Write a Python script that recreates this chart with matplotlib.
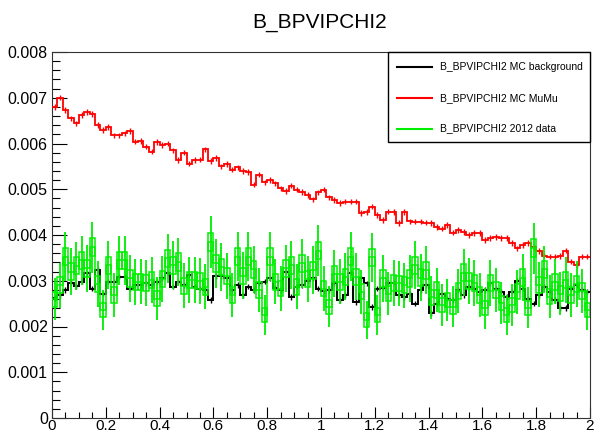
import numpy as np
import matplotlib
matplotlib.use("Agg")
import matplotlib.pyplot as plt
from matplotlib.patches import Rectangle
from matplotlib.lines import Line2D

plt.rcParams["font.family"] = ["Liberation Sans", "DejaVu Sans"]

# Dados (100 bins de 0 a 2), valores em unidades de 1e-3
x_min, x_max, n_bins = 0.0, 2.0, 100

mc_mumu = [
    6.80, 7.00, 6.73, 6.55, 6.44, 6.62, 6.69, 6.64, 6.40, 6.30,
    6.36, 6.18, 6.18, 6.22, 6.27, 6.04, 6.05, 5.93, 5.82, 6.03,
    5.97, 6.00, 5.85, 5.64, 5.80, 5.56, 5.64, 5.65, 5.87, 5.62,
    5.68, 5.50, 5.55, 5.43, 5.48, 5.40, 5.38, 5.10, 5.32, 5.15,
    5.20, 5.13, 5.02, 4.96, 5.08, 4.99, 4.94, 4.87, 4.78, 4.93,
    4.99, 4.82, 4.76, 4.70, 4.73, 4.73, 4.73, 4.48, 4.50, 4.62,
    4.44, 4.33, 4.51, 4.50, 4.26, 4.50, 4.30, 4.29, 4.29, 4.27,
    4.26, 4.18, 4.14, 4.22, 4.05, 4.11, 4.07, 4.00, 4.04, 4.04,
    3.89, 3.93, 3.96, 3.93, 3.93, 3.82, 3.71, 3.78, 3.82, 3.74,
    3.65, 3.55, 3.53, 3.53, 3.54, 3.66, 3.42, 3.34, 3.53, 3.53,
]

mc_background = [
    2.62, 2.69, 2.80, 2.96, 2.88, 2.98, 3.16, 2.83, 3.23, 2.72,
    2.98, 2.98, 3.09, 3.09, 2.83, 2.90, 2.91, 2.94, 2.91, 2.98,
    3.05, 3.16, 2.87, 2.98, 2.91, 3.12, 2.87, 2.83, 2.80, 2.58,
    3.10, 3.10, 3.05, 2.80, 2.91, 2.69, 2.87, 2.80, 2.95, 2.98,
    3.05, 2.85, 2.80, 3.20, 2.65, 2.87, 2.90, 3.00, 3.05, 2.83,
    2.77, 2.80, 2.94, 2.58, 2.69, 3.18, 2.54, 3.05, 2.94, 2.43,
    2.83, 2.85, 2.95, 2.96, 2.69, 2.65, 2.72, 2.50, 2.80, 2.90,
    2.29, 2.50, 2.70, 2.61, 2.58, 2.80, 2.69, 2.87, 2.83, 2.76,
    2.80, 2.94, 2.83, 2.76, 2.65, 2.76, 3.00, 2.83, 2.61, 2.50,
    2.69, 2.87, 2.76, 2.58, 2.40, 2.40, 2.83, 2.91, 2.80, 2.76,
]

data_2012 = [
    2.60, 2.90, 3.53, 3.20, 3.33, 3.45, 3.27, 3.73, 2.93, 2.36,
    3.34, 2.69, 3.45, 3.45, 3.05, 2.97, 2.98, 2.95, 3.01, 2.61,
    3.04, 3.49, 3.34, 3.41, 2.89, 3.01, 3.01, 2.99, 2.87, 3.84,
    3.38, 3.30, 3.10, 2.69, 3.53, 3.11, 3.53, 3.25, 2.80, 2.25,
    3.53, 2.98, 2.83, 3.27, 3.34, 2.87, 3.38, 3.04, 3.23, 3.66,
    2.83, 2.43, 3.15, 2.98, 3.09, 3.53, 3.09, 2.76, 2.14, 3.51,
    2.25, 3.05, 2.72, 2.95, 2.94, 2.90, 3.05, 3.34, 3.07, 3.23,
    2.64, 2.80, 2.47, 2.58, 2.43, 2.78, 3.18, 3.00, 2.95, 2.69,
    2.40, 2.95, 2.80, 2.51, 2.25, 2.47, 2.76, 3.07, 2.41, 3.71,
    2.91, 3.25, 2.65, 2.98, 2.72, 3.01, 2.69, 2.93, 2.78, 2.36,
]

# incertezas aproximadas (unidades de 1e-3)
err_mc = 0.06
err_data_ref = 0.50
box_frac = 0.35

x_ticks = [0, 0.2, 0.4, 0.6, 0.8, 1.0, 1.2, 1.4, 1.6, 1.8, 2.0]
x_tick_labels = ["0", "0.2", "0.4", "0.6", "0.8", "1", "1.2", "1.4", "1.6", "1.8", "2"]
y_ticks = [0, 0.001, 0.002, 0.003, 0.004, 0.005, 0.006, 0.007, 0.008]
y_tick_labels = ["0", "0.001", "0.002", "0.003", "0.004", "0.005", "0.006", "0.007", "0.008"]

labels = ["B_BPVIPCHI2 MC background", "B_BPVIPCHI2 MC MuMu", "B_BPVIPCHI2 2012 data"]
colors = ["#000000", "#ff0000", "#00ee00"]

# ================================
# Preparação
# ================================
edges = np.linspace(x_min, x_max, n_bins + 1)
centers = 0.5 * (edges[:-1] + edges[1:])
width = edges[1] - edges[0]
bkg = np.array(mc_background) * 1e-3
mumu = np.array(mc_mumu) * 1e-3
data = np.array(data_2012) * 1e-3
data_err = err_data_ref * 1e-3 * np.sqrt(data / 0.003)

W, H = 595, 434
fig = plt.figure(figsize=(W / 100, H / 100), dpi=100)
ax = fig.add_axes([52 / W, (H - 418) / H, (590 - 52) / W, (418 - 52) / H])

# MC background
ax.stairs(bkg, edges, baseline=None, color=colors[0], lw=1.4, zorder=3)
ax.errorbar(centers, bkg, yerr=err_mc * 1e-3, fmt="none", ecolor=colors[0], elinewidth=1.0, zorder=3)
# MC MuMu
ax.stairs(mumu, edges, baseline=None, color=colors[1], lw=1.3, zorder=3)
ax.errorbar(centers, mumu, yerr=err_mc * 1e-3, fmt="none", ecolor=colors[1], elinewidth=1.0, zorder=3)
# dados 2012: linha + caixas + barras de erro
ax.stairs(data, edges, baseline=None, color=colors[2], lw=1.1, zorder=4)
ax.bar(centers, 2 * box_frac * data_err, bottom=data - box_frac * data_err, width=width,
       facecolor="none", edgecolor=colors[2], lw=1.1, zorder=4)
ax.errorbar(centers, data, yerr=data_err, fmt="none", ecolor=colors[2], elinewidth=1.3, zorder=4)

ax.set_xlim(x_min, x_max)
ax.set_ylim(0, 0.008)
ax.set_xticks(x_ticks)
ax.set_xticklabels(x_tick_labels)
ax.set_yticks(y_ticks)
ax.set_yticklabels(y_tick_labels)
ax.set_xticks(np.arange(0, 2.0001, 0.05), minor=True)
ax.set_yticks(np.arange(0, 0.00801, 0.0002), minor=True)
ax.tick_params(axis="y", which="major", direction="in", length=11, width=0.8, labelsize=11.5, pad=3)
ax.tick_params(axis="y", which="minor", direction="in", length=5.5, width=0.8)
ax.tick_params(axis="x", which="major", direction="in", length=8, width=0.8, labelsize=11, pad=0.5)
ax.tick_params(axis="x", which="minor", direction="in", length=4, width=0.8)
for s in ax.spines.values():
    s.set_linewidth(0.8)
    s.set_color("#333333")

fig.text(320 / W, 1 - 23 / H, "B_BPVIPCHI2", ha="center", va="center", fontsize=15)

# Legenda
fig.patches.append(Rectangle((388 / W, 1 - 142 / H), (590 - 388) / W, 90 / H,
                             transform=fig.transFigure, facecolor="white",
                             edgecolor="black", lw=1.0, zorder=5))
for k, (lab, col) in enumerate(zip(labels, colors)):
    yy = 1 - (67 + 30.8 * k) / H
    fig.lines.append(Line2D([397 / W, 432 / W], [yy, yy], transform=fig.transFigure,
                            color=col, lw=1.5, zorder=6))
    fig.text(440 / W, yy, lab, ha="left", va="center", fontsize=7.5, zorder=7)

fig.savefig("out.png", dpi=100)
